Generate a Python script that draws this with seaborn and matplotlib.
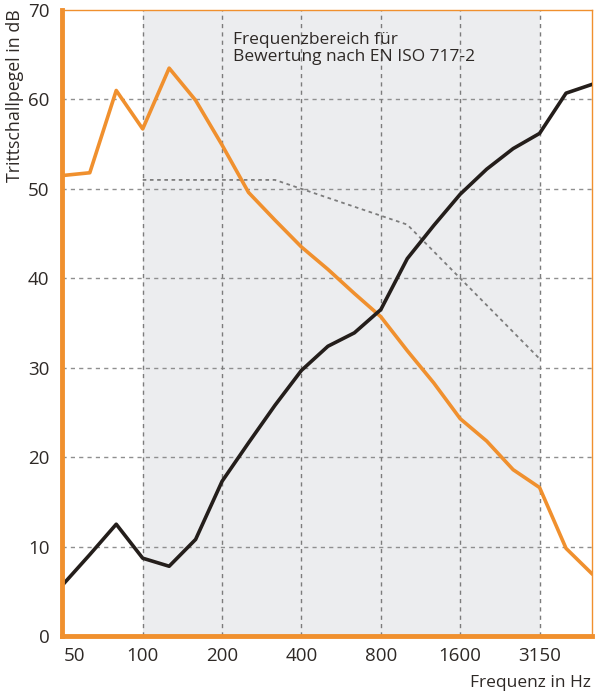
import matplotlib
matplotlib.use("Agg")
import matplotlib.pyplot as plt
import seaborn as sns
import pandas as pd
import numpy as np

# third-octave band centre frequencies (Hz)
freqs = ["50", "63", "80", "100", "125", "160", "200", "250", "315", "400", "500",
         "630", "800", "1000", "1250", "1600", "2000", "2500", "3150", "4000", "5000"]
orange_vals = [51.5, 51.8, 61.0, 56.7, 63.5, 59.9, 54.9, 49.6, 46.5, 43.5, 41.0,
               38.3, 35.7, 31.9, 28.3, 24.3, 21.8, 18.6, 16.6, 9.8, 6.9]
black_vals = [5.8, 9.1, 12.5, 8.7, 7.8, 10.8, 17.3, 21.6, 25.8, 29.7, 32.4,
              33.9, 36.5, 42.2, 45.9, 49.4, 52.2, 54.5, 56.2, 60.7, 61.7]
ref_freqs = ["100", "125", "160", "200", "250", "315", "400", "500", "630", "800",
             "1000", "1250", "1600", "2000", "2500", "3150"]
ref_vals = [51, 51, 51, 51, 51, 51, 50, 49, 48, 47, 46, 43, 40, 37, 34, 31]

tick_labels = ["50", "100", "200", "400", "800", "1600", "3150"]
y_ticks = [0, 10, 20, 30, 40, 50, 60, 70]

ORANGE = "#f0902e"
BLACK = "#241e1b"
TEXT = "#2e2926"

sns.set_theme(style="white")
plt.rcParams['font.family'] = ['Open Sans', 'DejaVu Sans']

pos = {f: i for i, f in enumerate(freqs)}
df = pd.DataFrame({"x": [pos[f] for f in freqs], "orange": orange_vals, "black": black_vals})
dref = pd.DataFrame({"x": [pos[f] for f in ref_freqs], "ref": ref_vals})

fig = plt.figure(figsize=(5.96, 6.95), dpi=100)
ax = fig.add_axes([62 / 596, 59 / 695, (591.7 - 62) / 596, (636 - 10) / 695])

# shaded evaluation range
ax.axvspan(pos["100"], pos["3150"], color="#ecedef", zorder=0, lw=0)

# grid
for y in y_ticks[1:-1]:
    ax.axhline(y, color="#8f8f8f", lw=1.0, ls=(0, (3, 3)), zorder=1)
for t in tick_labels[1:]:
    ax.axvline(pos[t], color="#7c7c7c", lw=1.0, ls=(0, (3, 3)), zorder=1)

sns.lineplot(data=dref, x="x", y="ref", ax=ax, color="#7d7d7d", lw=1.3,
             linestyle=(0, (2, 2)), zorder=2)
sns.lineplot(data=df, x="x", y="orange", ax=ax, color=ORANGE, lw=2.6, zorder=3)
sns.lineplot(data=df, x="x", y="black", ax=ax, color=BLACK, lw=2.6, zorder=4)

ax.set_xlim(-0.05, 19.97)
ax.set_ylim(0, 70)
ax.set_xticks([pos[t] for t in tick_labels])
ax.set_xticklabels(tick_labels)
ax.set_yticks(y_ticks)
ax.tick_params(axis="both", length=0, labelsize=13.5, labelcolor=TEXT)
ax.tick_params(axis="x", pad=8)
ax.tick_params(axis="y", pad=9)
ax.get_xticklabels()[0].set_horizontalalignment("left")
ax.set_xlabel("")
ax.set_ylabel("")

for s in ["top", "right"]:
    ax.spines[s].set_color(ORANGE)
    ax.spines[s].set_linewidth(1.0)
for s in ["left", "bottom"]:
    ax.spines[s].set_color(ORANGE)
    ax.spines[s].set_linewidth(3.5)
    ax.spines[s].set_zorder(5)

ax.text(0.323, 0.965, "Frequenzbereich für\nBewertung nach EN ISO 717-2",
        transform=ax.transAxes, ha="left", va="top", fontsize=12.5,
        color=TEXT, linespacing=1.05)

fig.text(15 / 596, 1 - 9 / 695, "Trittschallpegel in dB", rotation=90,
         ha="center", va="top", fontsize=12.8, color=TEXT)
fig.text(591 / 596, 1 - 683 / 695, "Frequenz in Hz", ha="right", va="center",
         fontsize=12.5, color=TEXT)

fig.savefig("out.png", dpi=100)
